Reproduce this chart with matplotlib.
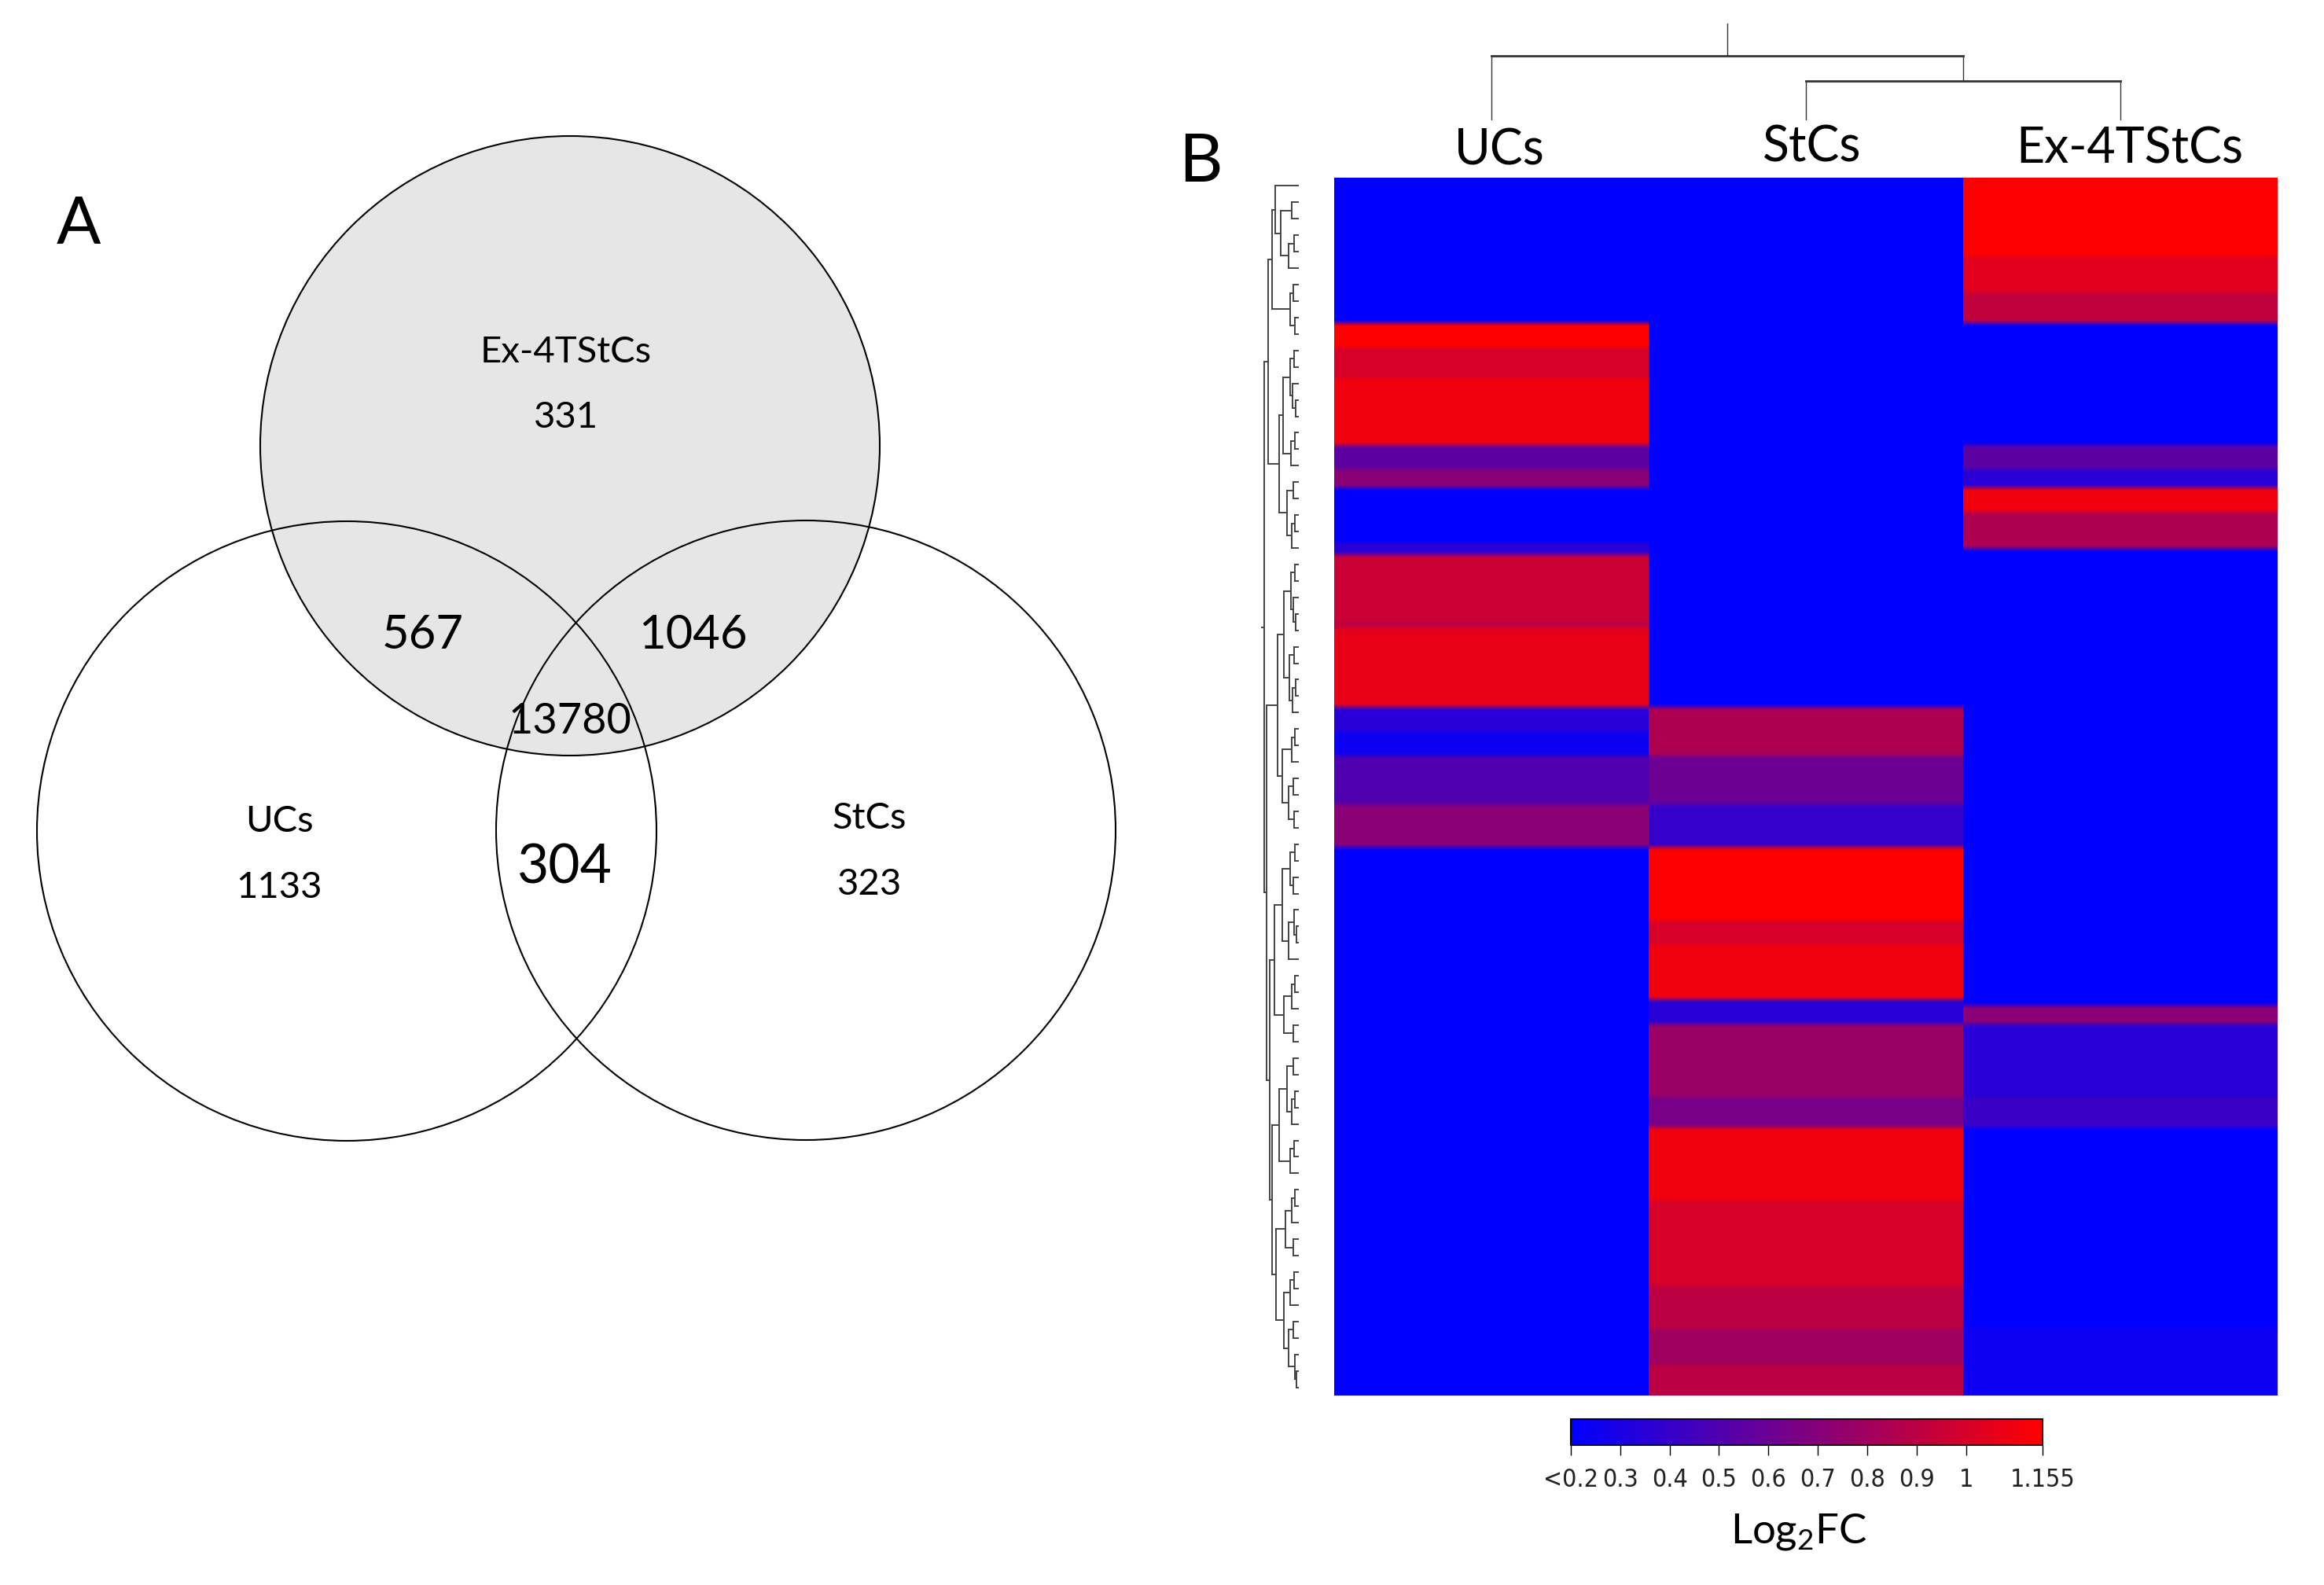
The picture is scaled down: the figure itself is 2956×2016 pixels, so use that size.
import numpy as np
import matplotlib
matplotlib.use("Agg")
import matplotlib.pyplot as plt
from matplotlib.patches import Circle
from matplotlib.colors import LinearSegmentedColormap, Normalize
from matplotlib.cm import ScalarMappable

plt.rcParams['font.family'] = ['Lato', 'DejaVu Sans']

# Figure size in pixels (dpi 100)
W, H = 2956, 2016

# ---- Venn data (panel A) ----
venn_sets = ['Ex-4TStCs', 'UCs', 'StCs']
venn_only = [331, 1133, 323]          # only in one set
venn_pairs = ['UCs&Ex', 'StCs&Ex', 'UCs&StCs']
venn_pair_counts = [567, 1046, 304]
venn_all = 13780

# ---- Heatmap data (panel B): run lengths (rows of 200) and Log2FC values ----
groups = ['UCs', 'StCs', 'Ex-4TStCs']
ucs_runs = [24, 4, 5, 11, 4, 3, 9, 2, 11, 1, 13, 4, 4, 8, 7, 90]
ucs_vals = [0.2, 1.155, 1.0, 1.1, 0.55, 0.72, 0.2, 0.35, 0.96, 0.9, 1.06, 0.35, 0.25, 0.5, 0.72, 0.2]
stcs_runs = [87, 8, 8, 7, 12, 4, 9, 4, 12, 5, 12, 14, 7, 6, 5]
stcs_vals = [0.2, 0.85, 0.6, 0.4, 1.155, 1.0, 1.1, 0.35, 0.78, 0.65, 1.1, 1.0, 0.9, 0.8, 0.9]
ex_runs = [13, 6, 5, 20, 4, 3, 4, 6, 75, 3, 12, 5, 33, 11]
ex_vals = [1.155, 1.04, 0.92, 0.2, 0.55, 0.35, 1.1, 0.85, 0.2, 0.72, 0.35, 0.42, 0.2, 0.25]

cbar_ticks = [0.2, 0.3, 0.4, 0.5, 0.6, 0.7, 0.8, 0.9, 1.0, 1.155]
cbar_labels = ['<0.2', '0.3', '0.4', '0.5', '0.6', '0.7', '0.8', '0.9', '1', '1.155']

# column dendrogram: merge heights (StCs+Ex, then UCs+rest), stem top
col_merge = [50, 82]
col_stem = 123

# row dendrogram as nested [height, left, right]; 0 = leaf
tree_top = [38,
            [33,
             [29, 0, [22, [8, 0, 0], [12, [5, 0, 0], 0]]],
             [10, [6, 0, 0], [4, 0, 0]]],
            [24,
             [19, [10, [5, 0, 0], [7, 0, [3, 0, 0]]], [9, [4, 0, 0], 0]],
             [14, [6, 0, 0], [8, [4, 0, 0], 0]]]]
tree_c = [26,
          [18, [9, [4, 0, 0], [6, 0, [3, 0, 0]]], [11, [5, 0, 0], [7, [3, 0, 0], 0]]],
          [20, [8, [4, 0, 0], 0], [12, [6, 0, 0], [5, 0, 0]]]]
tree_e = [30,
          [20, [10, [4, 0, 0], [6, 0, 0]], [12, [5, 0, [2, 0, 0]], 0]],
          [18, [8, [4, 0, 0], 0], [6, 0, 0]]]
tree_f = [33,
          [24, [14, [6, 0, 0], [8, [4, 0, 0], 0]], [10, [5, 0, 0], 0]],
          [28, [16, [8, [4, 0, 0], 0], [6, 0, 0]],
           [18, [10, [5, 0, 0], 0], [12, [6, 0, 0], [4, 0, [2, 0, 0]]]]]]
row_tree = [43, tree_top, [40, tree_c, [36, tree_e, tree_f]]]
row_stem = 46


def px_axes(fig, x0, y0, x1, y1):
    return fig.add_axes([x0 / W, 1 - y1 / H, (x1 - x0) / W, (y1 - y0) / H])


fig = plt.figure(figsize=(W / 100, H / 100), dpi=100)

# overlay in pixel coordinates for the venn and labels
ov = fig.add_axes([0, 0, 1, 1])
ov.set_xlim(0, W)
ov.set_ylim(H, 0)
ov.axis('off')

# --- Panel A: Venn ---
r = 394
centers = {'Ex-4TStCs': (725, 567), 'UCs': (441, 1057), 'StCs': (1025, 1056)}
ov.add_patch(Circle(centers['Ex-4TStCs'], r, facecolor='#e6e6e6', edgecolor='none', zorder=1))
for name in venn_sets:
    ov.add_patch(Circle(centers[name], r, facecolor='none', edgecolor='black', lw=1.5, zorder=2))

name_pos = {'Ex-4TStCs': (720, 461, 544), 'UCs': (355, 1058, 1142), 'StCs': (1106, 1054, 1138)}
for name, cnt in zip(venn_sets, venn_only):
    x, y1, y2 = name_pos[name]
    ov.text(x, y1, name, fontsize=34, ha='center', va='baseline', zorder=3)
    ov.text(x, y2, str(cnt), fontsize=34, ha='center', va='baseline', zorder=3)

pair_pos = [(538, 825, 43), (881, 825, 43), (718, 1123, 50)]
for (x, y, fs), cnt in zip(pair_pos, venn_pair_counts):
    ov.text(x, y, str(cnt), fontsize=fs, ha='center', va='baseline', zorder=3)
ov.text(725, 933, str(venn_all), fontsize=39, ha='center', va='baseline', zorder=3)

ov.text(100, 310, 'A', fontsize=60, ha='center', va='baseline')
ov.text(1527, 231, 'B', fontsize=62, ha='center', va='baseline')

# --- Panel B: heatmap ---
cmap = LinearSegmentedColormap.from_list('blue_red', ['#0000ff', '#ff0000'])
norm = Normalize(vmin=0.2, vmax=1.155)

ax = px_axes(fig, 1697, 226, 2897, 1775)
cols = [np.repeat(ucs_vals, ucs_runs), np.repeat(stcs_vals, stcs_runs), np.repeat(ex_vals, ex_runs)]
nrows = len(cols[0])
for i, col in enumerate(cols):
    ax.imshow(col.reshape(-1, 1), cmap=cmap, norm=norm, aspect='auto',
              interpolation='bilinear', extent=[i - 0.5, i + 0.5, nrows, 0])
ax.set_xlim(-0.5, 2.5)
ax.set_ylim(nrows, 0)
ax.axis('off')

# column labels
label_pos = [(1907, 210), (2305, 205), (2709, 208)]
for (x, y), g in zip(label_pos, groups):
    ov.text(x, y, g, fontsize=45, ha='center', va='baseline')

# column dendrogram
axc = px_axes(fig, 1697, 0, 2897, 153)
axc.set_xlim(-0.5, 2.5)
axc.set_ylim(0, 153)
axc.axis('off')
dc = '#333333'
axc.plot([1, 1], [0, col_merge[0]], color=dc, lw=1.0)
axc.plot([2, 2], [0, col_merge[0]], color=dc, lw=1.0)
axc.plot([1, 2], [col_merge[0], col_merge[0]], color=dc, lw=2.0)
axc.plot([0, 0], [0, col_merge[1]], color=dc, lw=1.0)
axc.plot([1.5, 1.5], [col_merge[0], col_merge[1]], color=dc, lw=1.0)
axc.plot([0, 1.5], [col_merge[1], col_merge[1]], color=dc, lw=2.0)
axc.plot([0.75, 0.75], [col_merge[1], col_stem], color=dc, lw=1.0)

# row dendrogram
axr = px_axes(fig, 1597, 226, 1653, 1775)
axr.axis('off')
leaf_count = [0]


def draw_tree(node):
    if node == 0:
        y = leaf_count[0] + 0.5
        leaf_count[0] += 1
        return y, 0
    h, a, b = node
    ya, ha = draw_tree(a)
    yb, hb = draw_tree(b)
    axr.plot([h, h], [ya, yb], color='#444444', lw=1.4)
    axr.plot([ha, h], [ya, ya], color='#444444', lw=1.4)
    axr.plot([hb, h], [yb, yb], color='#444444', lw=1.4)
    return (ya + yb) / 2, h


root_y, root_h = draw_tree(row_tree)
axr.plot([root_h, row_stem], [root_y, root_y], color='#444444', lw=1.4)
axr.set_ylim(leaf_count[0], 0)
axr.set_xlim(54, -2)

# colorbar
cax = px_axes(fig, 1998, 1805, 2598, 1838)
cb = fig.colorbar(ScalarMappable(norm=norm, cmap=cmap), cax=cax, orientation='horizontal',
                  ticks=cbar_ticks)
cb.set_ticklabels(cbar_labels)
cb.outline.set_linewidth(1.5)
cax.tick_params(axis='x', length=9, width=1.0, pad=12, labelsize=23)
for lab in cax.get_xticklabels():
    lab.set_family('DejaVu Sans')
    lab.set_stretch('condensed')
    lab.set_color('#222222')
ov.text(2288, 1962, r'Log$_{\mathregular{2}}$FC', fontsize=38, ha='center', va='baseline')

fig.savefig('out.png', dpi=100)
